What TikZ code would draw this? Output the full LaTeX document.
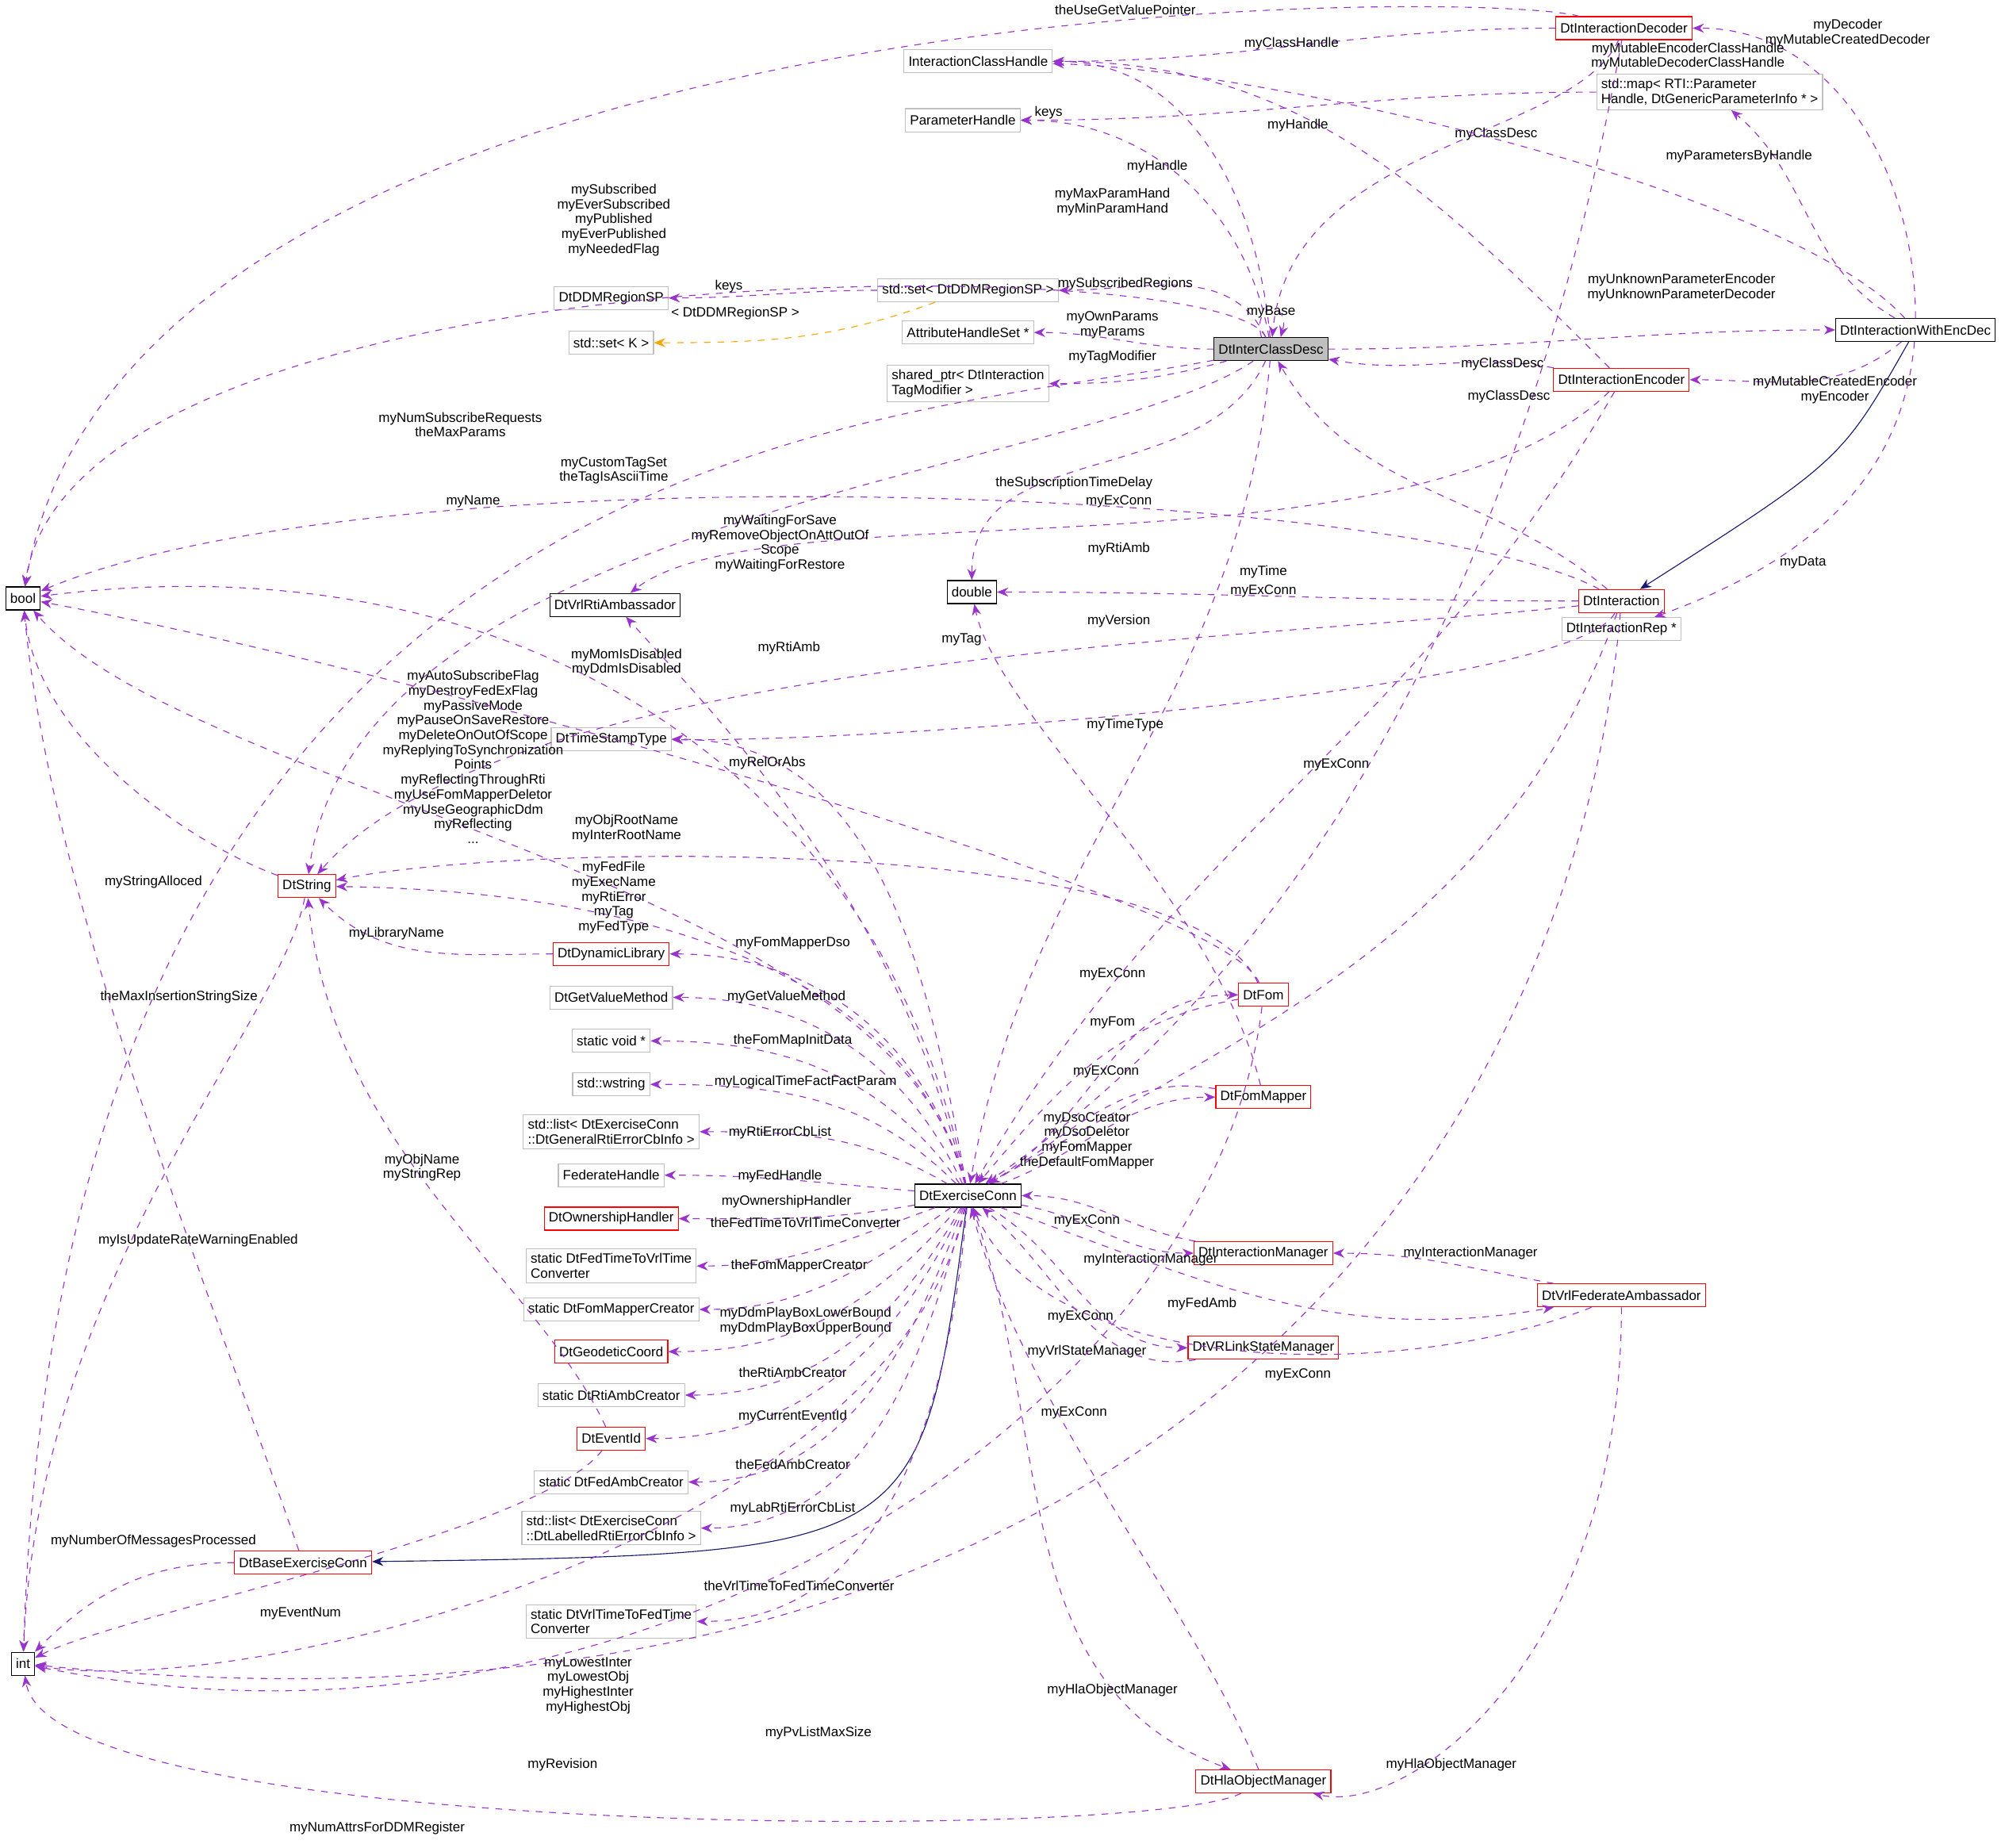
\documentclass[tikz,border=0pt]{standalone}
\usepackage{fontspec}
\setmainfont{Liberation Sans}
\usetikzlibrary{arrows.meta,positioning}
\definecolor{usecolor}{RGB}{154, 50, 205}
\definecolor{inhcolor}{RGB}{25, 25, 112}
\definecolor{tmplcolor}{RGB}{255, 165, 0}
\definecolor{extcolor}{RGB}{191, 191, 191}
\newcommand{\lblfont}{\fontsize{6}{6.6}\selectfont}

\begin{document}
\begin{tikzpicture}[x=0.02cm, y=-0.02cm,
    cls/.style={rectangle, draw=black, fill=white, font=\lblfont, inner sep=2pt, minimum height=0.36cm, align=left},
    ext/.style={cls, draw=extcolor},
    redcls/.style={cls, draw=red},
    root/.style={cls, fill=extcolor},
    use/.style={draw=usecolor, dashed, -{Stealth[length=5pt, width=4pt]}},
    tmpl/.style={use, draw=tmplcolor},
    inh/.style={draw=inhcolor, -{Stealth[length=5pt, width=4pt]}},
    lbl/.style={font=\lblfont, align=center, inner sep=0pt},
]
    \useasboundingbox (0,0) rectangle (1568,1445);

    % Class nodes, upper part
    \node[root] (icd) at (994,273) {DtInterClassDesc};
    \node[ext] (ich) at (765,48) {InteractionClassHandle};
    \node[ext] (ph) at (753,94) {ParameterHandle};
    \node[ext] (dds) at (478,233) {DtDDMRegionSP};
    \node[ext] (setk) at (478,268) {std::set{<} K {>}};
    \node[ext] (setr) at (757,227) {std::set{<} DtDDMRegionSP {>}};
    \node[ext] (ahs) at (757,260) {AttributeHandleSet *};
    \node[ext] (shp) at (757,300) {shared\_ptr{<} DtInteraction\\TagModifier {>}};
    \node[ext] (map) at (1337,72) {std::map{<} RTI::Parameter\\Handle, DtGenericParameterInfo * {>}};
    \node[cls] (ied) at (1498,258) {DtInteractionWithEncDec};
    \node[redcls] (dec) at (1270,22) {DtInteractionDecoder};
    \node[redcls] (enc) at (1268,297) {DtInteractionEncoder};
    \node[redcls] (inter) at (1268,470) {DtInteraction};
    \node[ext] (rep) at (1268,492) {DtInteractionRep *};
    \node[cls] (dbl) at (760,463) {double};
    \node[cls] (vrlrti) at (481,473) {DtVrlRtiAmbassador};
    \node[cls] (bool) at (18,468) {bool};
    \node[cls] (int) at (18,1301) {int};
    \node[redcls] (str) at (240,693) {DtString};

    % Class nodes, left column
    \node[ext] (ts) at (478,578) {DtTimeStampType};
    \node[redcls] (dyn) at (478,746) {DtDynamicLibrary};
    \node[ext] (getval) at (478,780) {DtGetValueMethod};
    \node[ext] (void) at (478,814) {static void *};
    \node[ext] (wstr) at (478,848) {std::wstring};
    \node[ext] (listg) at (478,885) {std::list{<} DtExerciseConn\\::DtGeneralRtiErrorCbInfo {>}};
    \node[ext] (fedh) at (478,919) {FederateHandle};
    \node[redcls] (own) at (478,953) {DtOwnershipHandler};
    \node[ext] (fedtime) at (478,990) {static DtFedTimeToVrlTime\\Converter};
    \node[ext] (fmc) at (478,1024) {static DtFomMapperCreator};
    \node[redcls] (geo) at (478,1057) {DtGeodeticCoord};
    \node[ext] (rac) at (478,1091) {static DtRtiAmbCreator};
    \node[redcls] (evid) at (478,1125) {DtEventId};
    \node[ext] (fac) at (478,1159) {static DtFedAmbCreator};
    \node[ext] (listl) at (478,1195) {std::list{<} DtExerciseConn\\::DtLabelledRtiErrorCbInfo {>}};
    \node[ext] (vrltime) at (478,1268) {static DtVrlTimeToFedTime\\Converter};
    \node[redcls] (bec) at (237,1222) {DtBaseExerciseConn};

    % Class nodes, lower right
    \node[cls] (ec) at (757,935) {DtExerciseConn};
    \node[redcls] (fom) at (988,778) {DtFom};
    \node[redcls] (fm) at (988,858) {DtFomMapper};
    \node[redcls] (im) at (988,980) {DtInteractionManager};
    \node[redcls] (vsm) at (988,1054) {DtVRLinkStateManager};
    \node[redcls] (vfa) at (1268,1013) {DtVrlFederateAmbassador};
    \node[redcls] (hom) at (988,1393) {DtHlaObjectManager};

    % Inheritance
    \draw[inh] (ied) .. controls (1440,360) .. (inter);
    \draw[inh] (ec) .. controls (720,1215) .. (bec);

    % Members of DtInterClassDesc
    \draw[use] (icd) to[out=95, in=0] (ich) node[lbl] at (905,130) {myHandle};
    \draw[use] (icd) to[out=100, in=0] (ph) node[lbl] at (870,158) {myMaxParamHand\\myMinParamHand};
    \draw[use] (icd) .. controls (960,195) and (60,190) .. (bool) node[lbl] at (480,172) {mySubscribed\\myEverSubscribed\\myPublished\\myEverPublished\\myNeededFlag};
    \draw[use] (icd) to[out=115, in=0] (setr) node[lbl] at (880,222) {mySubscribedRegions};
    \draw[use] ([xshift=-1.5mm]icd.north) .. controls +(-8,-28) and +(8,-28) .. ([xshift=1.5mm]icd.north) node[lbl] at (994,244) {myBase};
    \draw[use] (icd) to[out=180, in=0] (ahs) node[lbl] at (870,254) {myOwnParams\\myParams};
    \draw[use] (icd) to[out=195, in=0] (shp) node[lbl] at (870,279) {myTagModifier};
    \draw[use] (icd) .. controls (700,330) and (50,330) .. (int) node[lbl] at (360,332) {myNumSubscribeRequests\\theMaxParams};
    \draw[use] (icd) to[out=245, in=90] (dbl) node[lbl] at (840,378) {theSubscriptionTimeDelay};
    \draw[use] (icd) .. controls (850,370) and (280,400) .. (str) node[lbl] at (370,392) {myName};
    \draw[use] (icd) to[out=265, in=80] (ec) node[lbl] at (875,392) {myExConn};
    \draw[use] (icd) to[out=0, in=180] (ied) node[lbl] at (1315,225) {myUnknownParameterEncoder\\myUnknownParameterDecoder};
    \draw[use] (setr) to[out=180, in=0] (dds) node[lbl] at (570,224) {keys};
    \draw[tmpl] (setr) to[out=200, in=0] (setk) node[lbl] at (575,245) {{<} DtDDMRegionSP {>}};
    \draw[use] (map) to[out=180, in=0] (ph) node[lbl] at (820,88) {keys};

    % Decoder, encoder and interaction
    \draw[use] (dec) .. controls (1150,-10) and (100,-10) .. (bool) node[lbl] at (880,8) {theUseGetValuePointer};
    \draw[use] (dec) to[out=180, in=0] (ich) node[lbl] at (1010,34) {myClassHandle};
    \draw[use] (dec) .. controls (1230,110) and (1010,110) .. (icd) node[lbl] at (1170,105) {myClassDesc};
    \draw[use] (dec) .. controls (1220,300) and (1100,700) .. (ec);
    \draw[use] (ied) to[out=90, in=0] (dec) node[lbl] at (1445,26) {myDecoder\\myMutableCreatedDecoder};
    \draw[use] (ied) .. controls (1400,150) and (1000,55) .. (ich) node[lbl] at (1320,44) {myMutableEncoderClassHandle\\myMutableDecoderClassHandle};
    \draw[use] (ied) to[out=150, in=-40] (map) node[lbl] at (1360,122) {myParametersByHandle};
    \draw[use] (ied) to[out=220, in=0] (enc) node[lbl] at (1435,305) {myMutableCreatedEncoder\\myEncoder};
    \draw[use] (ied) to[out=265, in=20] (rep) node[lbl] at (1410,440) {myData};
    \draw[use] (enc) to[out=135, in=0] (ich) node[lbl] at (1015,98) {myHandle};
    \draw[use] (enc) to[out=170, in=-10] (icd) node[lbl] at (1175,285) {myClassDesc};
    \draw[use] (enc) .. controls (1100,460) and (600,380) .. (vrlrti) node[lbl] at (875,429) {myRtiAmb};
    \draw[use] (enc) to[out=240, in=60] (ec) node[lbl] at (988,462) {myExConn};
    \draw[use] (inter) to[out=140, in=-60] (icd) node[lbl] at (1180,310) {myClassDesc};
    \draw[use] (inter) .. controls (1100,380) and (300,350) .. (bool) node[lbl] at (480,368) {myCustomTagSet\\theTagIsAsciiTime};
    \draw[use] (inter) to[out=180, in=0] (dbl) node[lbl] at (988,447) {myTime};
    \draw[use] (inter) .. controls (1000,500) and (400,510) .. (str) node[lbl] at (752,500) {myTag};
    \draw[use] (inter) .. controls (1230,540) and (700,580) .. (ts) node[lbl] at (880,567) {myTimeType};
    \draw[use] (inter) to[out=250, in=30] (ec) node[lbl] at (1045,598) {myExConn};
    \draw[use] (inter) .. controls (1230,900) and (900,1390) .. (int) node[lbl] at (440,1380) {myRevision};

    % Members of DtExerciseConn
    \draw[use] (ec) .. controls (700,700) and (560,560) .. (vrlrti) node[lbl] at (617,507) {myRtiAmb};
    \draw[use] (ec) .. controls (690,600) and (400,420) .. (bool) node[lbl] at (610,425) {myWaitingForSave\\myRemoveObjectOnAttOutOf\\Scope\\myWaitingForRestore};
    \draw[use] (ec) .. controls (700,690) and (150,620) .. (bool) node[lbl] at (370,592) {myAutoSubscribeFlag\\myDestroyFedExFlag\\myPassiveMode\\myPauseOnSaveRestore\\myDeleteOnOutOfScope\\myReplyingToSynchronization\\Points\\myReflectingThroughRti\\myUseFomMapperDeletor\\myUseGeographicDdm\\myReflecting\\...};
    \draw[use] (ec) to[out=100, in=0] (ts) node[lbl] at (600,597) {myRelOrAbs};
    \draw[use] (ec) .. controls (700,720) and (400,695) .. (str) node[lbl] at (480,702) {myFedFile\\myExecName\\myRtiError\\myTag\\myFedType};
    \draw[use] (ec) to[out=105, in=0] (dyn) node[lbl] at (620,738) {myFomMapperDso};
    \draw[use] (ec) to[out=115, in=0] (getval) node[lbl] at (615,780) {myGetValueMethod};
    \draw[use] (ec) to[out=125, in=0] (void) node[lbl] at (620,814) {theFomMapInitData};
    \draw[use] (ec) to[out=135, in=0] (wstr) node[lbl] at (630,846) {myLogicalTimeFactFactParam};
    \draw[use] (ec) to[out=150, in=0] (listg) node[lbl] at (610,886) {myRtiErrorCbList};
    \draw[use] (ec) to[out=175, in=0] (fedh) node[lbl] at (610,920) {myFedHandle};
    \draw[use] (ec) to[out=190, in=0] (own) node[lbl] at (615,940) {myOwnershipHandler};
    \draw[use] (ec) to[out=200, in=0] (fedtime) node[lbl] at (630,956) {theFedTimeToVrlTimeConverter};
    \draw[use] (ec) to[out=215, in=0] (fmc) node[lbl] at (625,990) {theFomMapperCreator};
    \draw[use] (ec) to[out=230, in=0] (geo) node[lbl] at (630,1033) {myDdmPlayBoxLowerBound\\myDdmPlayBoxUpperBound};
    \draw[use] (ec) to[out=240, in=0] (rac) node[lbl] at (620,1073) {theRtiAmbCreator};
    \draw[use] (ec) to[out=245, in=0] (evid) node[lbl] at (620,1108) {myCurrentEventId};
    \draw[use] (ec) to[out=250, in=0] (fac) node[lbl] at (620,1145) {theFedAmbCreator};
    \draw[use] (ec) to[out=255, in=0] (listl) node[lbl] at (620,1180) {myLabRtiErrorCbList};
    \draw[use] (ec) to[out=265, in=0] (vrltime) node[lbl] at (625,1240) {theVrlTimeToFedTimeConverter};
    \draw[use] (ec) .. controls (700,1200) and (200,1330) .. (int) node[lbl] at (460,1318) {myLowestInter\\myLowestObj\\myHighestInter\\myHighestObj};
    \draw[use] (ec) to[out=30, in=180] (fom) node[lbl] at (870,800) {myFom};
    \draw[use] (ec) to[out=20, in=180] (fm) node[lbl] at (850,892) {myDsoCreator\\myDsoDeletor\\myFomMapper\\theDefaultFomMapper};
    \draw[use] (ec) to[out=-10, in=180] (im) node[lbl] at (900,985) {myInteractionManager};
    \draw[use] (ec) to[out=-30, in=180] (vsm) node[lbl] at (850,1057) {myVrlStateManager};
    \draw[use] (ec) to[out=-20, in=190] (vfa) node[lbl] at (940,1020) {myFedAmb};
    \draw[use] (ec) to[out=-70, in=160] (hom) node[lbl] at (870,1322) {myHlaObjectManager};

    % Back references to DtExerciseConn
    \draw[use] (fom) to[out=190, in=50] (ec) node[lbl] at (870,762) {myExConn};
    \draw[use] (fm) to[out=170, in=30] (ec) node[lbl] at (865,838) {myExConn};
    \draw[use] (im) to[out=170, in=0] (ec) node[lbl] at (850,955) {myExConn};
    \draw[use] (vsm) to[out=190, in=-40] (ec) node[lbl] at (845,1030) {myExConn};
    \draw[use] (vfa) .. controls (1100,1080) and (820,1080) .. (ec) node[lbl] at (1015,1075) {myExConn};
    \draw[use] (hom) .. controls (930,1250) and (800,1100) .. (ec) node[lbl] at (840,1105) {myExConn};

    % Other members
    \draw[use] (fom) .. controls (930,650) and (400,660) .. (str) node[lbl] at (490,648) {myObjRootName\\myInterRootName};
    \draw[use] (fom) .. controls (960,700) and (300,520) .. (bool) node[lbl] at (490,518) {myMomIsDisabled\\myDdmIsDisabled};
    \draw[use] (fom) .. controls (950,1100) and (500,1400) .. (int) node[lbl] at (640,1355) {myPvListMaxSize};
    \draw[use] (fm) .. controls (950,700) and (780,560) .. (dbl) node[lbl] at (875,486) {myVersion};
    \draw[use] (vfa) to[out=170, in=0] (im) node[lbl] at (1150,980) {myInteractionManager};
    \draw[use] (vfa) .. controls (1268,1300) and (1100,1420) .. (hom) node[lbl] at (1135,1380) {myHlaObjectManager};
    \draw[use] (hom) .. controls (900,1440) and (40,1440) .. (int) node[lbl] at (295,1430) {myNumAttrsForDDMRegister};
    \draw[use] (bec) .. controls (160,1000) and (40,700) .. (bool) node[lbl] at (155,970) {myIsUpdateRateWarningEnabled};
    \draw[use] (bec) to[out=180, in=45] (int) node[lbl] at (120,1205) {myNumberOfMessagesProcessed};
    \draw[use] (str) .. controls (150,660) and (30,580) .. (bool) node[lbl] at (120,690) {myStringAlloced};
    \draw[use] (str) .. controls (220,800) and (30,1000) .. (int) node[lbl] at (140,780) {theMaxInsertionStringSize};
    \draw[use] (dyn) to[out=180, in=-45] (str) node[lbl] at (310,730) {myLibraryName};
    \draw[use] (evid) .. controls (420,1000) and (260,900) .. (str) node[lbl] at (330,913) {myObjName\\myStringRep};
    \draw[use] (evid) .. controls (420,1200) and (100,1260) .. (int) node[lbl] at (235,1262) {myEventNum};
\end{tikzpicture}
\end{document}
